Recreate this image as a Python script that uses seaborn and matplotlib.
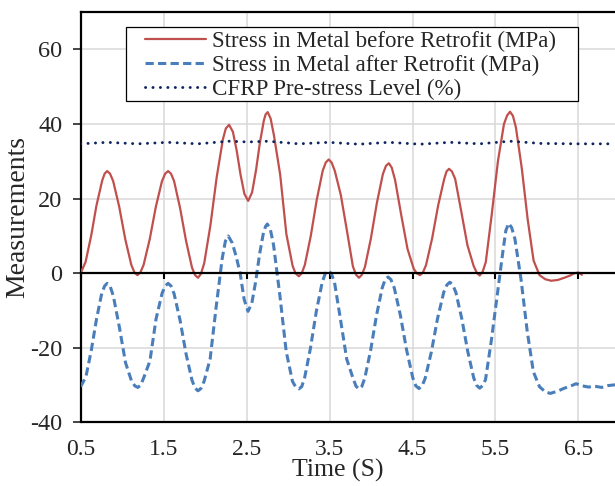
import matplotlib
matplotlib.use("Agg")
import matplotlib.pyplot as plt
import seaborn as sns
import pandas as pd
from matplotlib.patches import Rectangle

# ---------------- data ----------------
t_before = [0.50, 0.56, 0.63, 0.69, 0.76, 0.79, 0.82, 0.855,
            0.893, 0.966, 1.039, 1.112, 1.15, 1.185, 1.22,
            1.259, 1.333, 1.407, 1.481, 1.52, 1.555, 1.59,
            1.627, 1.699, 1.771, 1.843, 1.88, 1.915, 1.95,
            1.99, 2.065, 2.14, 2.215, 2.25, 2.29,
            2.336, 2.382, 2.428, 2.474, 2.52,
            2.567, 2.614, 2.661, 2.708, 2.73, 2.755, 2.79,
            2.83, 2.905, 2.98, 3.055, 3.09, 3.13, 3.165,
            3.202, 3.274, 3.346, 3.418, 3.455, 3.49, 3.525,
            3.563, 3.636, 3.709, 3.782, 3.82, 3.855, 3.89,
            3.927, 3.999, 4.071, 4.143, 4.18, 4.215, 4.25,
            4.29, 4.365, 4.44, 4.515, 4.55, 4.59, 4.625,
            4.663, 4.736, 4.809, 4.882, 4.91, 4.94, 4.975,
            5.014, 5.088, 5.162, 5.236, 5.275, 5.31, 5.345,
            5.383, 5.456, 5.529, 5.602, 5.64, 5.675, 5.71,
            5.746, 5.817, 5.888, 5.959, 6.03,
            6.10, 6.17, 6.25, 6.33, 6.40, 6.45, 6.50, 6.54]
y_before = [0.0, 3.0, 10.3, 18.0, 24.8, 26.7, 27.4, 26.7,
            24.7, 17.8, 9.1, 2.2, 0.2, -0.5, 0.2,
            2.2, 9.1, 17.8, 24.7, 26.7, 27.4, 26.7,
            24.7, 17.5, 8.7, 1.5, -0.5, -1.2, -0.2,
            2.7, 12.9, 25.7, 35.9, 38.8, 39.8,
            37.9, 32.8, 26.4, 21.3, 19.4,
            21.7, 27.6, 35.0, 40.9, 42.6, 43.2, 41.5,
            37.0, 26.5, 10.5, 2.0, 0.0, -0.8, 0.0,
            2.2, 10.0, 19.7, 27.5, 29.7, 30.5, 29.7,
            27.5, 21.0, 11.5, 1.8, -0.4, -1.2, -0.4,
            1.7, 9.4, 18.9, 26.6, 28.8, 29.5, 28.3,
            25.0, 15.5, 6.5, 1.2, 0.0, -0.5, 0.2,
            2.2, 9.3, 18.2, 25.3, 27.3, 28.0, 27.3,
            25.3, 16.5, 7.5, 2.0, 0.1, -0.6, 0.4,
            3.0, 16.0, 30.0, 40.0, 42.3, 43.3, 42.2,
            39.1, 28.1, 14.4, 3.4, -0.5,
            -1.6, -2.0, -1.8, -1.2, -0.6, 0.0, 0.2, -0.4]

t_after = [0.50, 0.564, 0.628, 0.692, 0.756, 0.79, 0.82, 0.855,
           0.894, 0.968, 1.042, 1.116, 1.155, 1.19, 1.225,
           1.263, 1.336, 1.409, 1.482, 1.52, 1.555, 1.59,
           1.627, 1.699, 1.771, 1.843, 1.88, 1.915, 1.95,
           1.988, 2.061, 2.134, 2.207, 2.245, 2.28,
           2.328, 2.375, 2.423, 2.471, 2.518,
           2.564, 2.611, 2.657, 2.704, 2.73, 2.75, 2.785,
           2.826, 2.902, 2.978, 3.054, 3.09, 3.13, 3.165,
           3.20, 3.27, 3.341, 3.413, 3.45, 3.485, 3.52,
           3.559, 3.633, 3.707, 3.781, 3.82, 3.855, 3.89,
           3.925, 3.995, 4.065, 4.135, 4.17, 4.205, 4.24,
           4.28, 4.354, 4.429, 4.503, 4.54, 4.578, 4.615,
           4.652, 4.727, 4.801, 4.876, 4.915, 4.95, 4.985,
           5.022, 5.094, 5.166, 5.238, 5.275, 5.31, 5.345,
           5.38, 5.45, 5.52, 5.59, 5.625, 5.66, 5.695,
           5.734, 5.808, 5.882, 5.956, 6.03,
           6.10, 6.16, 6.25, 6.33, 6.40, 6.47, 6.55, 6.62, 6.70, 6.78, 6.86, 6.94]
y_after = [-30.4, -27.8, -20.8, -12.3, -5.3, -3.4, -2.7, -3.4,
           -6.0, -14.5, -24.0, -29.0, -30.2, -30.6, -30.0,
           -27.9, -23.5, -12.3, -5.4, -3.4, -2.7, -3.4,
           -5.5, -12.6, -21.6, -28.7, -30.8, -31.5, -30.9,
           -29.0, -23.0, -9.0, 4.0, 8.6, 10.0,
           8.1, 4.5, 0.0, -7.0, -10.2,
           -8.0, -2.1, 5.1, 10.9, 12.6, 13.2, 12.0,
           7.5, -6.0, -21.0, -29.0, -30.4, -31.0, -30.4,
           -28.0, -20.1, -10.2, -2.3, 0.0, 0.7, 0.0,
           -2.3, -12.5, -23.0, -28.0, -30.3, -31.0, -30.3,
           -28.1, -20.7, -11.4, -3.9, -1.7, -1.0, -1.7,
           -3.9, -11.3, -20.6, -28.0, -30.2, -30.9, -30.2,
           -28.2, -21.1, -12.2, -5.1, -3.1, -2.4, -3.1,
           -5.1, -12.2, -21.0, -28.1, -30.1, -30.8, -30.1,
           -28.5, -18.0, -6.0, 6.0, 11.5, 13.4, 12.2,
           9.2, -1.7, -15.5, -26.4, -30.4,
           -31.8, -32.2, -31.6, -30.8, -30.3, -29.6, -30.2, -30.5, -30.3, -30.6, -30.1, -29.9]

t_cfrp = [0.50, 0.82, 1.19, 1.555, 1.915, 2.29, 2.52, 2.755, 3.13, 3.49,
          3.855, 4.215, 4.59, 4.955, 5.31, 5.675, 6.05, 6.50, 6.94]
y_cfrp = [34.7, 35.1, 34.7, 35.1, 34.7, 35.4, 35.2, 35.4, 34.7, 35.1,
          34.6, 35.1, 34.6, 35.1, 34.7, 35.4, 34.8, 34.7, 34.7]

labels = ["Stress in Metal before Retrofit (MPa)",
          "Stress in Metal after Retrofit (MPa)",
          "CFRP Pre-stress Level (%)"]
x_ticks = [0.5, 1.5, 2.5, 3.5, 4.5, 5.5, 6.5]
y_ticks = [-40, -20, 0, 20, 40, 60]

# ---------------- styling ----------------
sns.set_style("white")
plt.rcParams["font.family"] = ["Liberation Serif", "DejaVu Serif"]
plt.rcParams["axes.unicode_minus"] = False

fig = plt.figure(figsize=(6.15, 4.86), dpi=100)
ax = fig.add_axes([0.131, 0.1307, 0.869, 0.8443])

df_b = pd.DataFrame({"t": t_before, "v": y_before})
df_a = pd.DataFrame({"t": t_after, "v": y_after})
df_c = pd.DataFrame({"t": t_cfrp, "v": y_cfrp})

sns.lineplot(data=df_b, x="t", y="v", ax=ax, color="#C0504D", linewidth=1.6,
             estimator=None, label=labels[0], zorder=3)
sns.lineplot(data=df_a, x="t", y="v", ax=ax, color="#4A7EBB", linewidth=2.2,
             estimator=None, label=labels[1], zorder=3)
sns.lineplot(data=df_c, x="t", y="v", ax=ax, color="#0E2560", linewidth=2.1,
             estimator=None, label=labels[2], zorder=3)
lines = ax.get_lines()
lines[1].set_dashes((2.7, 1.4))
lines[1].set_dash_capstyle("butt")
lines[2].set_dashes((0.05, 2.5))
lines[2].set_dash_capstyle("round")

ax.set_xlim(0.5, 6.94)
ax.set_ylim(-40, 70)
ax.set_xticks(x_ticks)
ax.set_xticklabels([f"{v:g}" for v in x_ticks])
ax.set_yticks(y_ticks)
ax.grid(True, color="#D9D9D9", linewidth=1.1, zorder=0)
ax.set_axisbelow(True)

for s in ["left", "bottom", "top"]:
    ax.spines[s].set_color("black")
    ax.spines[s].set_linewidth(1.6)
ax.spines["right"].set_visible(False)

# horizontal axis crosses at zero (Excel style); labels stay at the bottom
ax.spines["bottom"].set_position(("data", 0))
ax.spines["bottom"].set_zorder(4)
ax.tick_params(axis="x", direction="out", length=4, width=1.5, bottom=True,
               pad=115.5, labelsize=17, color="black")
ax.tick_params(axis="y", direction="out", length=6, width=1.2, pad=7,
               labelsize=17.5, left=True)
ax.axhline(-40, color="black", linewidth=1.6, clip_on=False, zorder=4)

ax.set_xlabel("Time (S)", fontsize=18.5)
ax.set_ylabel("Measurements", fontsize=20)
ax.xaxis.set_label_coords(0.482, -0.0889)
ax.yaxis.set_label_coords(-0.095, 0.5)

# legend
leg = ax.legend(loc="upper left", bbox_to_anchor=(145 / 615, 1 - 31 / 486),
                bbox_transform=fig.transFigure, frameon=False, borderpad=0,
                borderaxespad=0, fontsize=16.6, handlelength=2.66,
                handletextpad=0.26, labelspacing=0.12)
leg.set_zorder(10)
ax.add_patch(Rectangle((125.5 / 615, 1 - 101 / 486), (578 - 125.5) / 615,
                       (101 - 26.7) / 486, transform=fig.transFigure,
                       facecolor="white", edgecolor="black", linewidth=0.9,
                       zorder=9, clip_on=False))

fig.savefig("out.png", dpi=100)
